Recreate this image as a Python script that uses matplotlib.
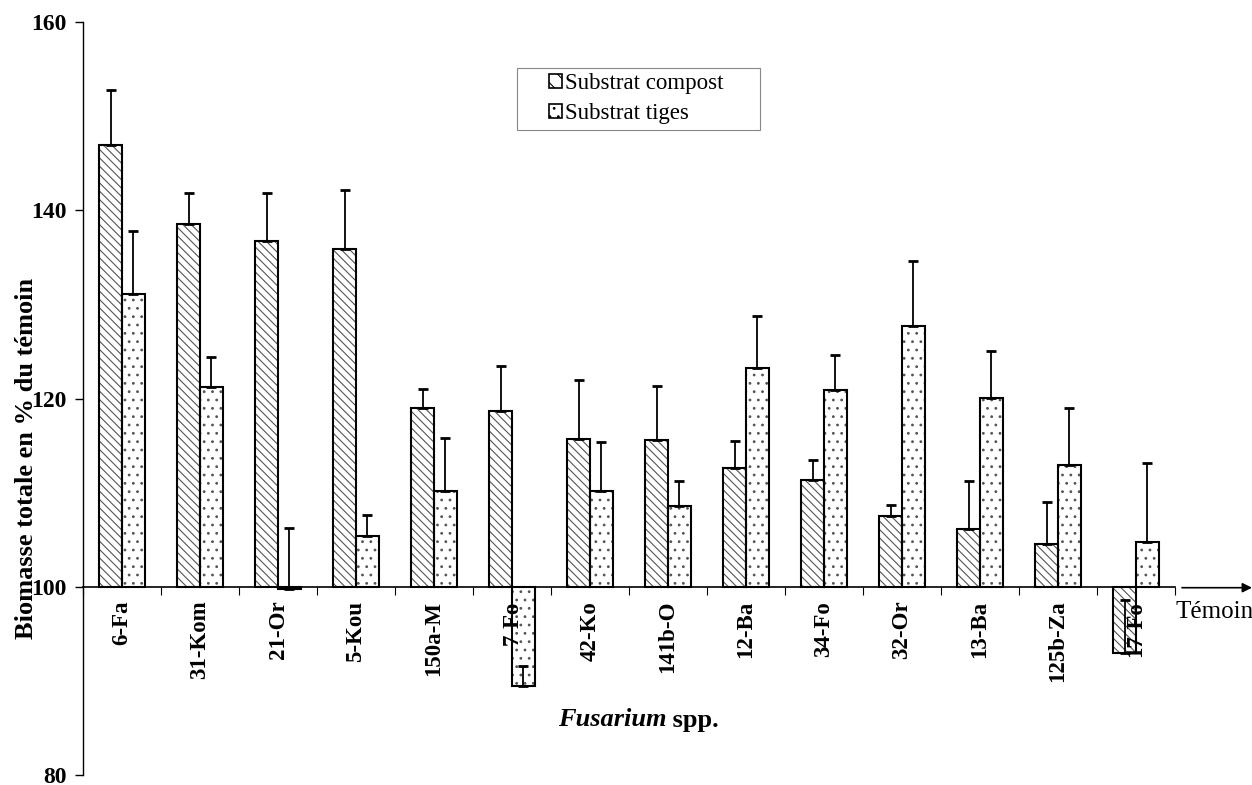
import numpy as np
import matplotlib.pyplot as plt
from matplotlib.patches import Rectangle

plt.rcParams['font.family'] = ['Liberation Serif', 'DejaVu Serif']

# souches de Fusarium et biomasse totale (% du témoin)
souches = ['6-Fa', '31-Kom', '21-Or', '5-Kou', '150a-M', '7-Fo', '42-Ko',
           '141b-O', '12-Ba', '34-Fo', '32-Or', '13-Ba', '125b-Za', '17-Fo']
compost = [146.9, 138.6, 136.8, 135.9, 119.0, 118.7, 115.7,
           115.6, 112.6, 111.4, 107.5, 106.2, 104.6, 93.0]
compost_err = [5.9, 3.2, 5.0, 6.3, 2.0, 4.8, 6.3,
               5.7, 2.9, 2.1, 1.2, 5.0, 4.4, 5.6]
tiges = [131.1, 121.2, 99.75, 105.4, 110.2, 89.5, 110.2,
         108.6, 123.3, 120.9, 127.7, 120.05, 112.9, 104.8]
tiges_err = [6.7, 3.2, 6.55, 2.2, 5.6, 2.1, 5.2,
             2.7, 5.5, 3.7, 6.9, 5.05, 6.1, 8.4]
temoin = 100

fig = plt.figure(figsize=(12.52, 7.85), dpi=100)
ax = fig.add_axes([0.0663, 0.0125, 0.8722, 0.9593])

x = np.arange(len(souches)) + 0.5
w = 0.29
comp = np.array(compost) - temoin
tig = np.array(tiges) - temoin

plt.rcParams['hatch.linewidth'] = 0.8
# remplissage hachuré puis contour noir
ax.bar(x - w / 2, comp, w, bottom=temoin, color='white', edgecolor='#555555',
       hatch='\\\\\\\\', linewidth=0)
ax.bar(x + w / 2, tig, w, bottom=temoin, color='white', edgecolor='#555555',
       hatch='..', linewidth=0)
ax.bar(x - w / 2, comp, w, bottom=temoin, fill=False, edgecolor='black', linewidth=1.5)
ax.bar(x + w / 2, tig, w, bottom=temoin, fill=False, edgecolor='black', linewidth=1.5)

# barres d'erreur (sens positif seulement)
ax.errorbar(x - w / 2, compost, yerr=[np.zeros(len(souches)), compost_err],
            fmt='none', ecolor='black', elinewidth=1.3, capsize=3.5, capthick=2)
ax.errorbar(x + w / 2, tiges, yerr=[np.zeros(len(souches)), tiges_err],
            fmt='none', ecolor='black', elinewidth=1.3, capsize=3.5, capthick=2)

ax.set_xlim(0, len(souches))
ax.set_ylim(80, 160)
ax.set_yticks([80, 100, 120, 140, 160])
ax.tick_params(axis='y', direction='out', length=6, width=1, pad=6, labelsize=17)
for t in ax.get_yticklabels():
    t.set_fontweight('bold')

ax.spines['top'].set_visible(False)
ax.spines['right'].set_visible(False)
ax.spines['bottom'].set_position(('data', temoin))
ax.spines['bottom'].set_linewidth(1.2)
ax.spines['left'].set_linewidth(1)

ax.set_xticks(x)
ax.set_xticklabels(souches, rotation=90, fontsize=16.5, fontweight='bold')
ax.set_xticks(np.arange(len(souches) + 1), minor=True)
ax.tick_params(axis='x', which='major', length=0, pad=10)
ax.tick_params(axis='x', which='minor', direction='out', length=6, width=0.8)

fig.text(27 / 1252, 1 - 458 / 785, 'Biomasse totale en % du témoin', fontsize=19,
         fontweight='bold', rotation=90, ha='center', va='center')

# titre de l'axe x : nom de genre en italique
t1 = fig.text(558 / 1252, 1 - 720 / 785, 'Fusarium', fontsize=19, fontweight='bold',
              fontstyle='italic', ha='left', va='center')
ax.annotate(' spp.', xy=(1, 0), xycoords=t1, fontsize=19, fontweight='bold',
            ha='left', va='bottom')

# flèche du témoin
yb = 1 - 587.7 / 785
ax.annotate('', xy=(1.0, yb), xytext=(1182 / 1252, yb), xycoords='figure fraction',
            arrowprops=dict(arrowstyle='-|>', color='black', lw=1.2,
                            mutation_scale=14, shrinkA=0, shrinkB=0))
fig.text(1176 / 1252, 1 - 612 / 785, 'Témoin', fontsize=18, ha='left', va='center')

# légende dans un cadre plus large
ax.add_patch(Rectangle((517 / 1252, 1 - 130 / 785), 243 / 1252, 62 / 785,
                       transform=fig.transFigure, facecolor='white', clip_on=False,
                       edgecolor='#888888', linewidth=0.8, zorder=5))
leg = ax.legend(['Substrat compost', 'Substrat tiges'], loc='upper left',
                bbox_to_anchor=(549 / 1252, 1 - 73 / 785), bbox_transform=fig.transFigure,
                fontsize=16.5, frameon=False, handlelength=0.55,
                handleheight=0.55, handletextpad=0.15, borderpad=0,
                labelspacing=0.4, borderaxespad=0)
leg.set_zorder(6)
leg.legend_handles[0].set_hatch('\\\\')
leg.legend_handles[1].set_hatch('..')
for h in leg.legend_handles:
    h.set_edgecolor('black')
    h.set_facecolor('white')
    h.set_linewidth(1.2)

fig.savefig('out.png', dpi=100)
